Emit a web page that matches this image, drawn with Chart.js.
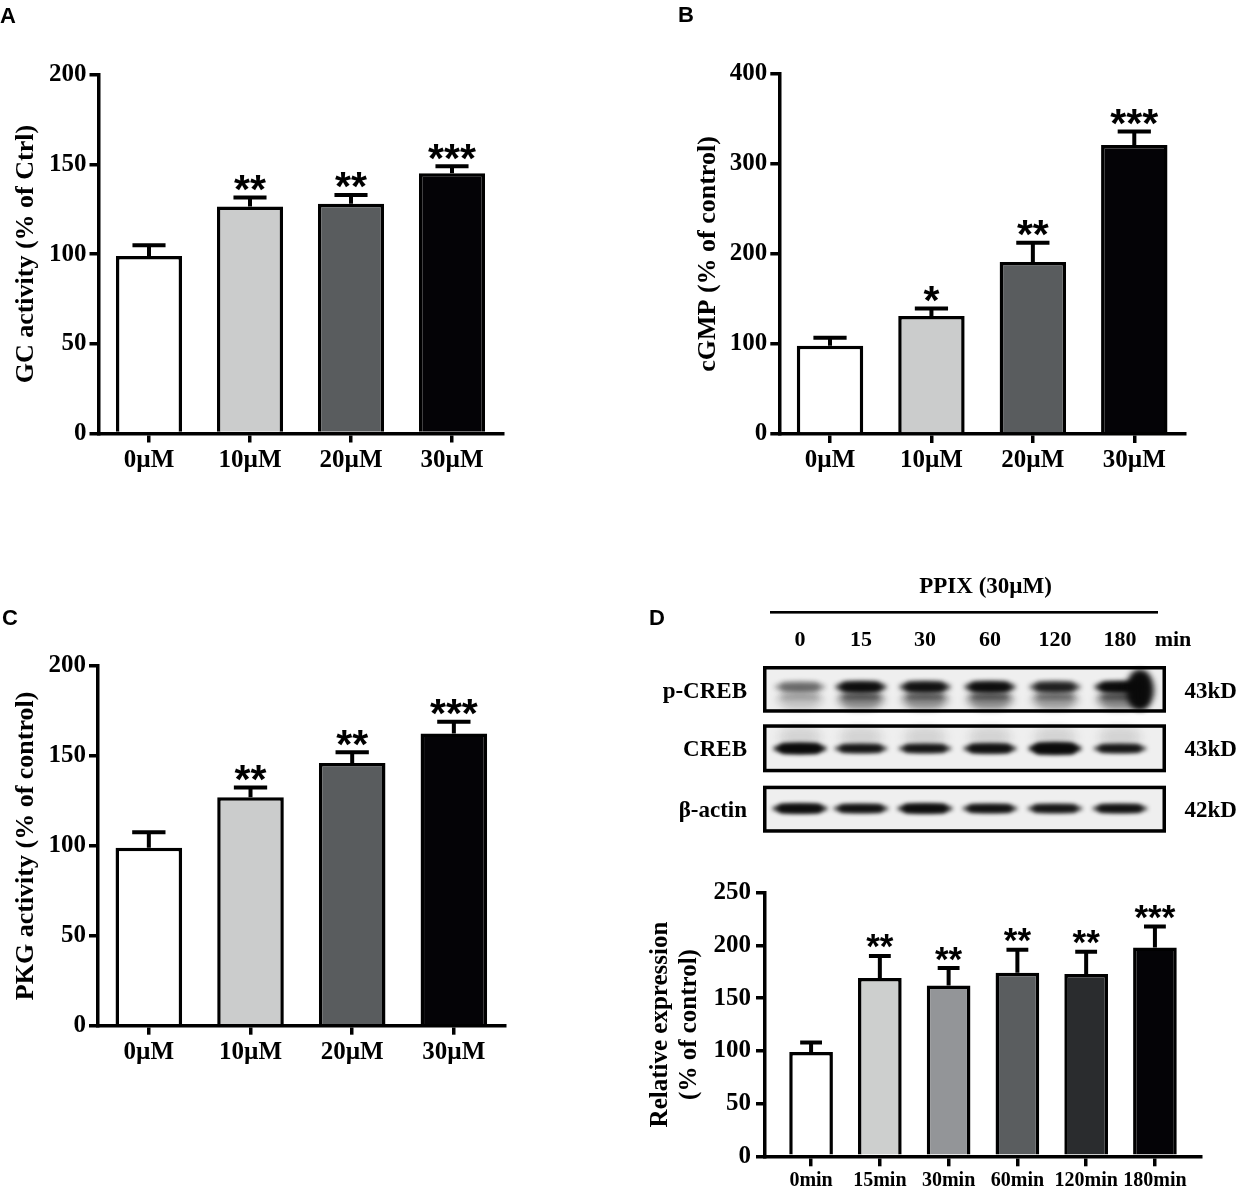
<!DOCTYPE html>
<html>
<head>
<meta charset="utf-8">
<script src="https://cdn.jsdelivr.net/npm/chart.js@4.4.1/dist/chart.umd.min.js"></script>
<style>
html, body { margin: 0; padding: 0; background: #fff; }
#page { position: relative; width: 1239px; height: 1190px; overflow: hidden; background: #fff; }
canvas { position: absolute; }
.t { position: absolute; white-space: nowrap; line-height: 1; color: #000;
     font-family: "Liberation Serif", "Times New Roman", serif; font-weight: bold; }
.c { transform: translate(-50%, -50%); }
.r { transform: translate(-100%, -50%); }
.l { transform: translate(0, -50%); }
.letter { position: absolute; line-height: 1; font-size: 22px; font-weight: bold;
          font-family: "Liberation Sans", Arial, sans-serif; }
</style>
</head>
<body>
<div id="page">
  <canvas id="chartA" width="540" height="500" style="left:0;top:0"></canvas>
  <canvas id="chartB" width="599" height="500" style="left:640px;top:0"></canvas>
  <canvas id="chartC" width="540" height="500" style="left:0;top:590px"></canvas>
  <canvas id="blot" width="619" height="300" style="left:620px;top:560px"></canvas>
  <canvas id="chartD" width="619" height="330" style="left:620px;top:860px"></canvas>

  <div class="letter" style="left:0;top:5px">A</div>
  <div class="letter" style="left:678px;top:4px">B</div>
  <div class="letter" style="left:2px;top:607px">C</div>
  <div class="letter" style="left:649px;top:607px">D</div>
  <div id="blotText"></div>
</div>

<script>
// ---- data ----
const doseLabels = ['0µM', '10µM', '20µM', '30µM'];
const doseColors = ['#ffffff', '#cbcccc', '#595c5e', '#040306'];

const gcValues = [99, 126.5, 128, 145];
const gcErrors = [6, 5, 5, 4];
const gcStars = ['', '**', '**', '***'];

const cgmpValues = [98, 131, 191, 321];
const cgmpErrors = [9, 8.5, 21.5, 15];
const cgmpStars = ['', '*', '**', '***'];

const pkgValues = [99, 127, 146, 162.5];
const pkgErrors = [8.5, 5.5, 6, 6.5];
const pkgStars = ['', '**', '**', '***'];

const timeLabels = ['0min', '15min', '30min', '60min', '120min', '180min'];
const timeColors = ['#ffffff', '#cdcfce', '#939598', '#5a5d5f', '#2a2c2e', '#040306'];
const crebValues = [99, 169, 162, 174, 173, 198];
const crebErrors = [9, 21, 16.5, 22, 21, 20];
const crebStars = ['', '**', '**', '**', '**', '***'];

// blot lanes and relative band darkness
const laneLabels = ['0', '15', '30', '60', '120', '180'];
const pCrebLevel = [0.35, 0.9, 0.85, 0.9, 0.7, 0.95];
const crebLevel = [0.95, 0.8, 0.8, 0.85, 0.95, 0.8];
const actinLevel = [0.9, 0.85, 0.9, 0.85, 0.8, 0.85];

const SERIF = '"Liberation Serif", "Times New Roman", serif';

// upper error bars with a cap, plus significance stars
const errStars = {
  id: 'errStars',
  afterDatasetsDraw(chart, args, opts) {
    const ctx = chart.ctx;
    const y = chart.scales.y;
    const values = opts.values;
    ctx.save();
    ctx.strokeStyle = '#000';
    ctx.fillStyle = '#000';
    ctx.lineWidth = opts.lw;
    ctx.lineCap = 'butt';
    chart.getDatasetMeta(0).data.forEach((bar, i) => {
      const top = y.getPixelForValue(values[i] + opts.errors[i]);
      const half = bar.width / 4;
      ctx.beginPath();
      ctx.moveTo(bar.x, bar.y);
      ctx.lineTo(bar.x, top);
      ctx.moveTo(bar.x - half, top);
      ctx.lineTo(bar.x + half, top);
      ctx.stroke();
      const s = opts.stars[i];
      if (s) {
        ctx.font = opts.font;
        ctx.textAlign = 'center';
        ctx.textBaseline = 'alphabetic';
        const m = ctx.measureText(s);
        ctx.fillText(s, bar.x, top - opts.lw / 2 - opts.gap - m.actualBoundingBoxDescent);
      }
    });
    ctx.restore();
  }
};

function makeChart(id, o) {
  const xScale = {
    offset: true,
    grid: { offset: false, drawOnChartArea: false, drawTicks: true, tickLength: o.xTick,
            color: '#000', lineWidth: 3.5 },
    border: { display: true, color: '#000', width: 3.5 },
    ticks: { color: '#000', font: { family: SERIF, size: o.xFont, weight: 'bold' },
             padding: 3, maxRotation: 0, autoSkip: false },
    afterFit: s => { s.height = o.xHeight; }
  };
  let data;
  if (o.linear) {
    Object.assign(xScale, {
      type: 'linear', min: -o.edge, max: o.labels.length - 1 + o.edge, offset: false,
      afterBuildTicks: s => { s.ticks = o.labels.map((_, i) => ({ value: i })); }
    });
    xScale.ticks.callback = v => o.labels[v];
    data = o.values.map((v, i) => ({ x: i, y: v }));
  } else {
    xScale.type = 'category';
    data = o.values;
  }
  return new Chart(document.getElementById(id), {
    type: 'bar',
    data: {
      labels: o.linear ? undefined : o.labels,
      datasets: [{
        data: data,
        backgroundColor: o.colors,
        borderColor: '#000',
        borderWidth: 3.5,
        borderSkipped: 'start',
        barPercentage: o.barPct,
        categoryPercentage: 1
      }]
    },
    options: {
      responsive: false,
      animation: false,
      events: [],
      layout: { padding: o.pad },
      plugins: {
        legend: { display: false },
        tooltip: { enabled: false },
        errStars: { values: o.values, errors: o.errors, stars: o.stars,
                    font: o.starFont, gap: o.starGap, lw: 4 }
      },
      scales: {
        x: xScale,
        y: {
          min: 0,
          max: o.yMax,
          ticks: { stepSize: o.yStep, color: '#000', padding: o.yPad,
                   font: { family: SERIF, size: 25, weight: 'bold' } },
          grid: { drawOnChartArea: false, tickLength: 9, color: '#000', lineWidth: 3.5 },
          border: { display: true, color: '#000', width: 3.5 },
          title: { display: true, text: o.title, color: '#000',
                   font: { family: SERIF, size: o.titleSize, weight: 'bold', lineHeight: o.titleLH },
                   padding: { top: o.titlePad, bottom: 0 } },
          afterFit: s => { s.width = o.yWidth; }
        }
      }
    },
    plugins: [errStars]
  });
}

const starBig = 'bold 41px "Liberation Sans", Arial, sans-serif';

makeChart('chartA', {
  labels: doseLabels, values: gcValues, errors: gcErrors, stars: gcStars, colors: doseColors,
  yMax: 200, yStep: 50, title: 'GC activity (% of Ctrl)', titleSize: 26, titleLH: 1.2, titlePad: 11,
  pad: { top: 74.7, right: 37.5, bottom: 16.5, left: 0 }, yWidth: 98.5, xHeight: 50,
  xTick: 9, xFont: 25, yPad: 3, barPct: 0.655, starFont: starBig, starGap: 4.5
});

makeChart('chartB', {
  labels: doseLabels, values: cgmpValues, errors: cgmpErrors, stars: cgmpStars, colors: doseColors,
  yMax: 400, yStep: 100, title: 'cGMP (% of control)', titleSize: 26, titleLH: 1.2, titlePad: 52.4,
  pad: { top: 74, right: 54, bottom: 16, left: 0 }, yWidth: 139.3, xHeight: 50,
  xTick: 9, xFont: 25, yPad: 3, barPct: 0.655, starFont: starBig, starGap: 4.5
});

makeChart('chartC', {
  labels: doseLabels, values: pkgValues, errors: pkgErrors, stars: pkgStars, colors: doseColors,
  yMax: 200, yStep: 50, title: 'PKG activity (% of control)', titleSize: 26, titleLH: 1.2, titlePad: 11,
  pad: { top: 76, right: 35.3, bottom: 14.3, left: 0 }, yWidth: 98, xHeight: 50,
  xTick: 9, xFont: 25, yPad: 3, barPct: 0.655, starFont: starBig, starGap: 4.5
});

makeChart('chartD', {
  linear: true, edge: 0.67,
  labels: timeLabels, values: crebValues, errors: crebErrors, stars: crebStars, colors: timeColors,
  yMax: 250, yStep: 50, title: ['Relative expression', '(% of control)'], titleSize: 25, titleLH: 1.16,
  titlePad: 26, pad: { top: 32.7, right: 38, bottom: 0, left: 0 }, yWidth: 145, xHeight: 33.7,
  xTick: 10, xFont: 20, yPad: 5, barPct: 0.635,
  starFont: 'bold 35px "Liberation Sans", Arial, sans-serif', starGap: 5.5
});

// ---- western blot (panel D, top) ----
const laneX = [800, 861, 925, 990, 1055, 1120];
const OX = 620, OY = 560;
const b = document.getElementById('blot').getContext('2d');

function band(cx, cy, w, h, alpha, blur) {
  b.save();
  b.filter = 'blur(' + blur + 'px)';
  b.fillStyle = 'rgba(10,10,10,' + alpha + ')';
  b.beginPath();
  b.ellipse(cx - OX, cy - OY, w / 2, h / 2, 0, 0, Math.PI * 2);
  b.fill();
  b.beginPath();
  b.roundRect(cx - OX - w / 2 + 6, cy - OY - h / 2, w - 12, h, h / 2);
  b.fill();
  b.restore();
}

function box(top, bottom) {
  b.fillStyle = '#efefef';
  b.fillRect(763 - OX, top - OY, 1166 - 763, bottom - top);
}
function frame(top, bottom) {
  b.strokeStyle = '#000';
  b.lineWidth = 3.5;
  b.strokeRect(763 - OX + 1.75, top - OY + 1.75, 1166 - 763 - 3.5, bottom - top - 3.5);
}

// p-CREB
box(666, 712.7);
laneX.forEach((x, i) => {
  const v = pCrebLevel[i];
  band(x, 700, 50, 18, 0.3 * v, 3.5);         // smear under the band
  band(x, 697, 48, 4, 0.35 * v, 2);           // faint lower band
  band(x, 687, 52, 10, v, 2.6);
});
band(1140, 690, 28, 38, 0.95, 3);             // saturated spot in 180 min lane
frame(666, 712.7);

// CREB
box(724.3, 772.3);
const crebThick = [10, 8, 8, 9, 11, 8];
laneX.forEach((x, i) => {
  band(x, 737, 48, 22, 0.06, 4);
  band(x, 748.5, 54, crebThick[i], crebLevel[i], 2);
});
frame(724.3, 772.3);

// beta-actin
box(785.7, 832.7);
const actinThick = [9, 8, 9, 8, 8, 8];
laneX.forEach((x, i) => {
  band(x, 808.5, 56, actinThick[i], actinLevel[i], 2);
});
frame(785.7, 832.7);

// treatment line
b.fillStyle = '#000';
b.fillRect(770 - OX, 611 - OY, 1158 - 770, 2.6);

// blot text as html
const bt = document.getElementById('blotText');
function txt(s, x, y, size, cls) {
  const d = document.createElement('div');
  d.className = 't ' + cls;
  d.style.left = x + 'px';
  d.style.top = y + 'px';
  d.style.fontSize = size + 'px';
  d.textContent = s;
  bt.appendChild(d);
}
txt('PPIX (30µM)', 985.6, 585, 23, 'c');
laneLabels.forEach((s, i) => txt(s, laneX[i], 639, 22, 'c'));
txt('min', 1173, 639, 22, 'c');
txt('p-CREB', 747, 690, 23, 'r');
txt('CREB', 747, 748, 23, 'r');
txt('β-actin', 747, 809.3, 23, 'r');
txt('43kD', 1184.4, 690, 23, 'l');
txt('43kD', 1184.4, 748, 23, 'l');
txt('42kD', 1184.4, 809.3, 23, 'l');
</script>
</body>
</html>
